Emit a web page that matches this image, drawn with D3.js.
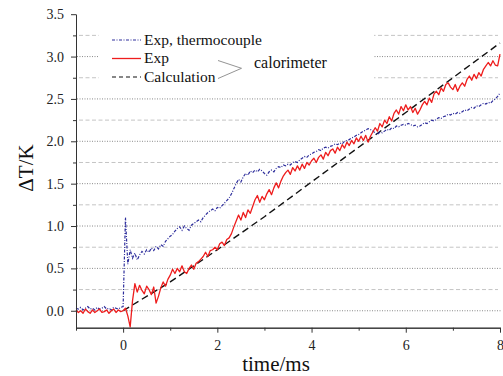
<!DOCTYPE html>
<html><head><meta charset="utf-8">
<script src="https://cdn.jsdelivr.net/npm/d3@7"></script>
<style>
html,body{margin:0;padding:0;background:#fff;}
svg{display:block;}
</style></head>
<body><svg id="c" width="503" height="376"></svg>
<script>
// ---- data ----
const tStart = -1, tStep = 0.05;
const expCal = [
  0.01,-0.02,0.0,-0.03,0.02,-0.01,-0.03,0.01,-0.02,0.0,0.02,-0.02,-0.01,0.01,-0.03,0.0,0.02,-0.02,0.01,-0.01,
  0.0,0.03,-0.06,-0.19,0.12,0.32,0.22,0.3,0.24,0.2,0.29,0.25,0.19,0.28,0.09,0.17,0.27,0.34,0.29,0.37,
  0.42,0.49,0.44,0.5,0.46,0.53,0.46,0.44,0.5,0.54,0.49,0.56,0.58,0.61,0.64,0.69,0.64,0.71,0.72,0.75,
  0.72,0.79,0.81,0.77,0.84,0.86,0.91,0.99,1.06,1.13,1.07,1.16,1.1,1.19,1.15,1.23,1.31,1.36,1.28,1.35,
  1.31,1.38,1.43,1.37,1.45,1.51,1.45,1.53,1.59,1.63,1.66,1.61,1.69,1.65,1.71,1.66,1.73,1.68,1.75,1.72,
  1.77,1.8,1.75,1.81,1.84,1.79,1.87,1.83,1.89,1.91,1.86,1.93,1.89,1.96,1.92,1.99,1.95,2.01,1.97,2.04,
  2.0,2.06,2.01,2.07,1.99,2.06,2.11,2.16,2.12,2.21,2.17,2.25,2.21,2.29,2.24,2.33,2.37,2.32,2.41,2.36,
  2.43,2.37,2.41,2.34,2.39,2.32,2.37,2.43,2.47,2.43,2.51,2.46,2.56,2.59,2.55,2.63,2.59,2.67,2.69,2.64,
  2.61,2.67,2.59,2.65,2.69,2.65,2.73,2.77,2.72,2.79,2.74,2.81,2.77,2.85,2.89,2.93,2.89,2.95,2.9,2.89,
  3.03
];
const expThermo = [
  0.03,0.02,0.04,0.01,0.03,0.05,0.02,0.03,0.01,0.04,0.02,0.03,0.05,0.02,0.03,0.01,0.04,0.03,0.02,0.04,
  0.05,1.1,0.55,0.72,0.62,0.68,0.6,0.66,0.7,0.67,0.72,0.69,0.74,0.71,0.76,0.73,0.78,0.76,0.82,0.85,
  0.88,0.9,0.94,0.97,0.99,0.95,1.0,0.97,0.95,1.01,1.03,1.05,1.07,1.05,1.1,1.13,1.16,1.18,1.2,1.18,
  1.22,1.21,1.24,1.27,1.3,1.33,1.38,1.44,1.5,1.55,1.52,1.58,1.62,1.6,1.65,1.63,1.66,1.64,1.67,1.65,
  1.62,1.6,1.64,1.66,1.64,1.68,1.7,1.69,1.72,1.71,1.73,1.72,1.75,1.76,1.75,1.78,1.8,1.82,1.81,1.84,
  1.85,1.87,1.88,1.9,1.89,1.92,1.93,1.92,1.94,1.95,1.97,1.96,1.98,1.97,2.0,2.01,2.02,2.04,2.05,2.07,
  2.08,2.1,2.12,2.13,2.15,2.14,2.12,2.1,2.08,2.11,2.1,2.12,2.14,2.13,2.16,2.15,2.18,2.17,2.19,2.2,
  2.19,2.21,2.2,2.18,2.19,2.17,2.18,2.2,2.22,2.21,2.23,2.25,2.24,2.26,2.28,2.27,2.29,2.3,2.32,2.31,
  2.33,2.32,2.34,2.33,2.35,2.37,2.36,2.38,2.4,2.39,2.42,2.41,2.43,2.45,2.44,2.46,2.45,2.48,2.5,2.53,
  2.57
];
const calcTime = [0,1,2,3,4,5,6,7,8];
const calcValues = [0,0.34,0.72,1.11,1.52,1.93,2.34,2.75,3.16];
const xMajorTicks = [0,2,4,6,8];
const xMinorTicks = [-1,1,3,5,7];
const yMajorTicks = [0,0.5,1.0,1.5,2.0,2.5,3.0,3.5];
const yMinorTicks = [0.25,0.75,1.25,1.75,2.25,2.75,3.25];
const gridMajor = [0,0.5,1.0,1.5,2.0,2.5,3.0];
const gridMinor = [0.25,0.75,1.25,1.75,2.25,2.75,3.25];
const legendLabels = ["Exp, thermocouple","Exp","Calculation"];
const groupLabel = "calorimeter";
const xTitle = "time/ms";
const yTitle = "\u0394T/K";

// ---- drawing ----
const svg = d3.select("#c");
const x = d3.scaleLinear([-1,8],[76,500]);
const y = d3.scaleLinear([-0.2,3.5],[327.7,14.2]);
const FONT = '"Times New Roman", Tinos, "Liberation Serif", "Noto Serif", "DejaVu Serif", FreeSerif, Georgia, serif';

// gridlines
svg.append("g").selectAll("line").data(gridMinor).join("line")
  .attr("x1",x(-1)+3).attr("x2",x(8)-2).attr("y1",d=>y(d)).attr("y2",d=>y(d))
  .attr("stroke","#c4c4c4").attr("stroke-width",1).attr("stroke-dasharray","4,2.5");
svg.append("g").selectAll("line").data(gridMajor).join("line")
  .attr("x1",x(-1)+1).attr("x2",x(8)+1).attr("y1",d=>y(d)).attr("y2",d=>y(d))
  .attr("stroke","#8a8a8a").attr("stroke-width",1).attr("stroke-dasharray","1,1.5");

// legend background
svg.append("rect").attr("x",99).attr("y",25).attr("width",275).attr("height",65).attr("fill","#fff");

// series
const series = (vals) => vals.map((v,i)=>[tStart + i*tStep, v]);
const line = d3.line().x(d=>x(d[0])).y(d=>y(d[1]));
svg.append("path").datum(d3.zip(calcTime,calcValues)).attr("d",line)
  .attr("fill","none").attr("stroke","#111").attr("stroke-width",1.4).attr("stroke-dasharray","7,4");
svg.append("path").datum(series(expThermo)).attr("d",line)
  .attr("fill","none").attr("stroke","#2e2e9c").attr("stroke-width",1.2).attr("stroke-dasharray","3,1.5,1,1.5");
svg.append("path").datum(series(expCal)).attr("d",line)
  .attr("fill","none").attr("stroke","#ee1d1d").attr("stroke-width",1.3).attr("stroke-linejoin","round");

// axes
const axisStyle = g => { g.attr("font-family",FONT); g.selectAll("path,line").attr("stroke","#333"); g.selectAll("text").style("font-family",FONT).attr("font-size",14).attr("fill","#222"); };
svg.append("g").attr("transform","translate(0,327.7)")
  .call(d3.axisBottom(x).tickValues(xMinorTicks).tickSize(3).tickFormat("").tickSizeOuter(0)).call(axisStyle);
svg.append("g").attr("transform","translate(0,327.7)")
  .call(d3.axisBottom(x).tickValues(xMajorTicks).tickSize(5).tickPadding(7).tickFormat(d3.format("d")).tickSizeOuter(0)).call(axisStyle);
svg.append("g").attr("transform","translate(76,0)")
  .call(d3.axisLeft(y).tickValues(yMinorTicks).tickSize(3).tickFormat("").tickSizeOuter(0)).call(axisStyle);
svg.append("g").attr("transform","translate(76,0)")
  .call(d3.axisLeft(y).tickValues(yMajorTicks).tickSize(5).tickPadding(7).tickFormat(d3.format(".1f")).tickSizeOuter(0)).call(axisStyle);

// titles
svg.append("text").attr("x",276).attr("y",371).attr("text-anchor","middle")
  .style("font-family",FONT).attr("font-size",21).attr("fill","#111").text(xTitle);
svg.append("text").attr("transform","translate(33,168) rotate(-90)").attr("text-anchor","middle")
  .style("font-family",FONT).attr("font-size",21).attr("fill","#111").text(yTitle);

// legend
const legY = [40,58.5,77];
const legStyles = [
  {stroke:"#2e2e9c", dash:"3,1.5,1,1.5", w:1.2},
  {stroke:"#ee1d1d", dash:null, w:1.3},
  {stroke:"#111", dash:"4,3", w:1.2}
];
legendLabels.forEach((lab,i)=>{
  svg.append("line").attr("x1",112).attr("x2",141).attr("y1",legY[i]).attr("y2",legY[i])
    .attr("stroke",legStyles[i].stroke).attr("stroke-width",legStyles[i].w)
    .attr("stroke-dasharray",legStyles[i].dash);
  svg.append("text").attr("x",144).attr("y",legY[i]+4.5)
    .style("font-family",FONT).attr("font-size",15.5).attr("fill","#111").text(lab);
});
svg.append("polyline").attr("points","218,60.5 241.5,68.3 218,78.5")
  .attr("fill","none").attr("stroke","#888").attr("stroke-width",0.9);
svg.append("text").attr("x",254).attr("y",67.5)
  .style("font-family",FONT).attr("font-size",16).attr("fill","#111").text(groupLabel);
</script></body></html>
